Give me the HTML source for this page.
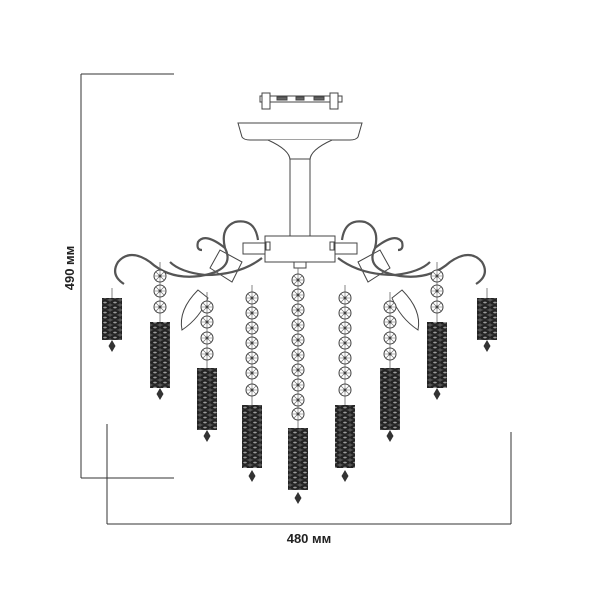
<!DOCTYPE html>
<html><head><meta charset="utf-8"><style>
html,body{margin:0;padding:0;background:#fff;}
svg{display:block;}
text{font-family:"Liberation Sans",sans-serif;font-size:13px;fill:#222;font-weight:600;}
</style></head><body>
<svg width="600" height="600" viewBox="0 0 600 600" xmlns="http://www.w3.org/2000/svg">
<defs>
<pattern id="pd" x="0" y="0" width="20" height="5" patternUnits="userSpaceOnUse">
<rect width="20" height="5" fill="#555"/>
<ellipse cx="5" cy="2.5" rx="5" ry="2.5" fill="#222"/>
<ellipse cx="15" cy="2.5" rx="5" ry="2.5" fill="#222"/>
<ellipse cx="5" cy="2.5" rx="1.8" ry="0.9" fill="#999"/>
<ellipse cx="15" cy="2.5" rx="1.8" ry="0.9" fill="#999"/>
</pattern>
<g id="bead"><circle r="6" fill="#fff" stroke="#444" stroke-width="1"/><path d="M-6 0H6M0-6V6M-4-4L4 4M-4 4L4-4" stroke="#666" stroke-width="0.6"/><circle r="1.5" fill="#444"/></g>
<g id="drop"><path d="M0-6L3.5 0L0 6L-3.5 0Z" fill="#333"/></g>
</defs>
<g stroke="#333" stroke-width="1" fill="none">
<path d="M81 74V478M81 74H174M81 478H174"/>
<path d="M107 524H511M107 424V524M511 432V524"/>
</g>
<text transform="translate(74,268) rotate(-90)" text-anchor="middle">490 мм</text>
<text x="309" y="543" text-anchor="middle">480 мм</text>

<g stroke="#444" stroke-width="1" fill="#fff">
<rect x="260" y="96" width="82" height="6"/>
<rect x="262" y="93" width="8" height="16"/><rect x="330" y="93" width="8" height="16"/>
<rect x="277" y="97" width="10" height="3" fill="#666"/><rect x="314" y="97" width="10" height="3" fill="#666"/><rect x="296" y="97" width="8" height="3" fill="#666"/>
<path d="M238 123H362L358 137Q356 140 350 140H250Q244 140 242 137Z"/>
<path d="M268 140Q290 150 290 160H310Q310 150 332 140"/>
<rect x="290" y="159" width="20" height="77"/>
<rect x="265" y="236" width="70" height="26"/>
<rect x="243" y="243" width="22" height="11"/><rect x="335" y="243" width="22" height="11"/>
<rect x="266" y="242" width="4" height="8"/><rect x="330" y="242" width="4" height="8"/>
<rect x="294" y="262" width="12" height="6"/>
<path d="M210 268L220 250L242 262L232 282Z"/>
<path d="M390 268L380 250L358 262L368 282Z"/>
<path d="M198 290Q178 310 182 330Q200 318 208 298Z" fill="none"/>
<path d="M402 290Q422 310 418 330Q400 318 392 298Z" fill="none"/>
</g>
<g stroke="#555" stroke-width="2.2" fill="none">
<path d="M258 240Q255 218 235 222Q220 228 225 248Q236 270 200 276Q170 280 150 262Q130 248 118 262Q110 275 124 284"/>
<path d="M262 258Q240 275 205 275Q180 272 170 262"/>
<path d="M225 248Q205 232 198 242Q196 250 202 250"/>
<path d="M342 240Q345 218 365 222Q380 228 375 248Q364 270 400 276Q430 280 450 262Q470 248 482 262Q490 275 476 284"/>
<path d="M338 258Q360 275 395 275Q420 272 430 262"/>
<path d="M375 248Q395 232 402 242Q404 250 398 250"/>
</g>
<g stroke="#666" stroke-width="0.8">
<path d="M112 288V298M160 262V322M207 292V368M252 285V405M298 268V428M345 285V405M390 292V368M437 262V322M487 288V298"/>
</g>
<g>
<use href="#bead" x="160" y="276"/><use href="#bead" x="160" y="291"/><use href="#bead" x="160" y="307"/>
<use href="#bead" x="437" y="276"/><use href="#bead" x="437" y="291"/><use href="#bead" x="437" y="307"/>
<use href="#bead" x="207" y="307"/><use href="#bead" x="207" y="322"/><use href="#bead" x="207" y="338"/><use href="#bead" x="207" y="354"/>
<use href="#bead" x="390" y="307"/><use href="#bead" x="390" y="322"/><use href="#bead" x="390" y="338"/><use href="#bead" x="390" y="354"/>
<use href="#bead" x="252" y="298"/><use href="#bead" x="252" y="313"/><use href="#bead" x="252" y="328"/><use href="#bead" x="252" y="343"/><use href="#bead" x="252" y="358"/><use href="#bead" x="252" y="373"/><use href="#bead" x="252" y="390"/>
<use href="#bead" x="345" y="298"/><use href="#bead" x="345" y="313"/><use href="#bead" x="345" y="328"/><use href="#bead" x="345" y="343"/><use href="#bead" x="345" y="358"/><use href="#bead" x="345" y="373"/><use href="#bead" x="345" y="390"/>
<use href="#bead" x="298" y="280"/><use href="#bead" x="298" y="295"/><use href="#bead" x="298" y="310"/><use href="#bead" x="298" y="325"/><use href="#bead" x="298" y="340"/><use href="#bead" x="298" y="355"/><use href="#bead" x="298" y="370"/><use href="#bead" x="298" y="385"/><use href="#bead" x="298" y="400"/><use href="#bead" x="298" y="414"/>
</g>
<g fill="url(#pd)">
<rect x="102" y="298" width="20" height="42"/>
<rect x="150" y="322" width="20" height="66"/>
<rect x="197" y="368" width="20" height="62"/>
<rect x="242" y="405" width="20" height="63"/>
<rect x="288" y="428" width="20" height="62"/>
<rect x="335" y="405" width="20" height="63"/>
<rect x="380" y="368" width="20" height="62"/>
<rect x="427" y="322" width="20" height="66"/>
<rect x="477" y="298" width="20" height="42"/>
</g>
<g>
<use href="#drop" x="112" y="346"/><use href="#drop" x="160" y="394"/><use href="#drop" x="207" y="436"/><use href="#drop" x="252" y="476"/><use href="#drop" x="298" y="498"/><use href="#drop" x="345" y="476"/><use href="#drop" x="390" y="436"/><use href="#drop" x="437" y="394"/><use href="#drop" x="487" y="346"/>
</g>
</svg>
</body></html>
